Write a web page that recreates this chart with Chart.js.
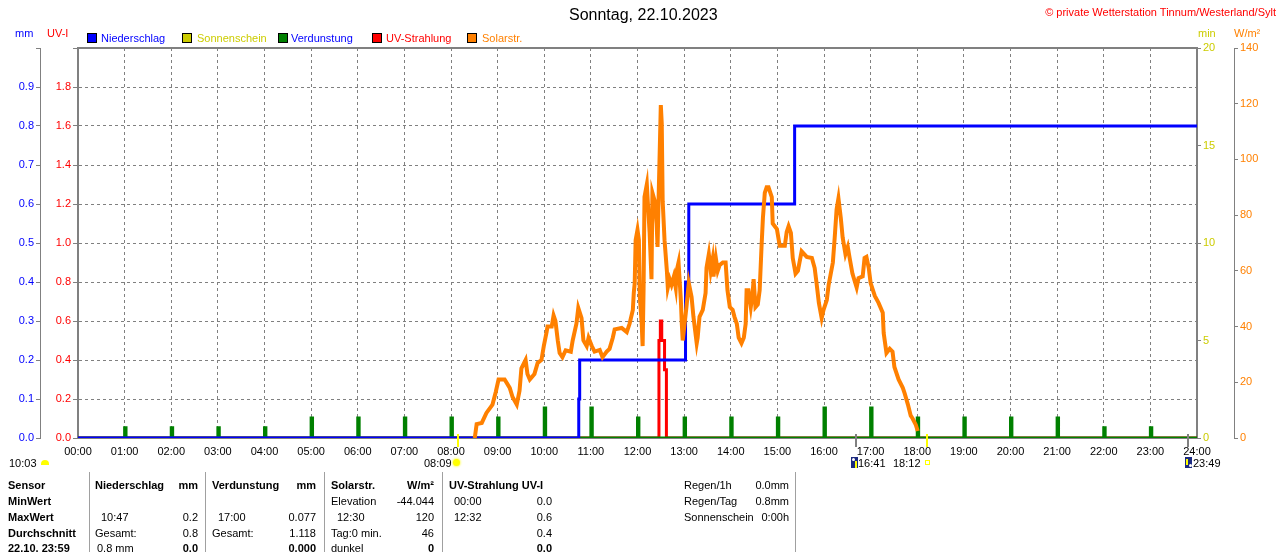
<!DOCTYPE html>
<html>
<head>
<meta charset="utf-8">
<script src="https://cdn.jsdelivr.net/npm/chart.js@4.4.0/dist/chart.umd.min.js"></script>
<style>
body{margin:0;background:#fff;font-family:'Liberation Sans',Arial,sans-serif;font-size:11px;}
#wrap{position:relative;width:1280px;height:552px;overflow:hidden;}
canvas{position:absolute;left:0;top:0;}
.t{position:absolute;white-space:nowrap;line-height:13px;}
.r{text-align:right;width:60px;}
.b{font-weight:bold;}
.sep{position:absolute;width:1px;background:#a0a0a0;top:472px;height:80px;}
.lb{position:absolute;width:8px;height:8px;border:1px solid #000;top:33px;}
.moon{position:absolute;width:7px;height:11px;background:#1c2a80;top:457px;}
</style>
</head>
<body>
<div id="wrap">
<canvas id="wx" width="1280" height="552"></canvas>

<div class="t" style="left:569px;top:6px;font-size:16px;line-height:18px;">Sonntag, 22.10.2023</div>
<div class="t" style="right:4px;top:6px;color:#f00;">&copy; private Wetterstation Tinnum/Westerland/Sylt</div>

<div class="t" style="left:15px;top:27px;color:#00f;">mm</div>
<div class="t" style="left:47px;top:27px;color:#f00;">UV-I</div>
<div class="t" style="left:1198px;top:27px;color:#cccc00;">min</div>
<div class="t" style="left:1234px;top:27px;color:#ff8000;">W/m&sup2;</div>

<div class="lb" style="left:87px;background:#0000ff;"></div>
<div class="t" style="left:101px;top:32px;color:#00f;">Niederschlag</div>
<div class="lb" style="left:182px;background:#cccc00;"></div>
<div class="t" style="left:197px;top:32px;color:#cccc00;">Sonnenschein</div>
<div class="lb" style="left:278px;background:#008000;"></div>
<div class="t" style="left:291px;top:32px;color:#00f;">Verdunstung</div>
<div class="lb" style="left:372px;background:#ff0000;"></div>
<div class="t" style="left:386px;top:32px;color:#f00;">UV-Strahlung</div>
<div class="lb" style="left:467px;background:#ff8000;"></div>
<div class="t" style="left:482px;top:32px;color:#ff8000;">Solarstr.</div>

<!-- marker row under the time axis -->
<div class="t" style="left:9px;top:457px;">10:03</div>
<div style="position:absolute;left:41px;top:460px;width:8px;height:5px;background:#ffff00;border-radius:5px 5px 0 0;"></div>
<div class="t" style="left:424px;top:457px;">08:09</div>
<div style="position:absolute;left:453px;top:459px;width:7px;height:7px;background:#ffff00;border-radius:50%;box-shadow:0 0 2px 1px #ffff80;"></div>
<div class="moon" style="left:851px;"></div>
<div style="position:absolute;left:852px;top:458px;width:3px;height:3px;background:#fff;border-radius:50%;"></div>
<div style="position:absolute;left:855px;top:461px;width:2px;height:7px;background:#ffff00;"></div>
<div class="t" style="left:858px;top:457px;">16:41</div>
<div class="t" style="left:893px;top:457px;">18:12</div>
<div style="position:absolute;left:925px;top:460px;width:3px;height:3px;border:1px solid #ffff00;"></div>
<div class="moon" style="left:1185px;"></div>
<div style="position:absolute;left:1186px;top:459px;width:2px;height:6px;background:#ffff00;"></div>
<div style="position:absolute;left:1189px;top:464px;width:3px;height:3px;background:#fff;border-radius:50%;"></div>
<div class="t" style="left:1193px;top:457px;">23:49</div>

<!-- table -->
<div class="sep" style="left:89px;"></div>
<div class="sep" style="left:205px;"></div>
<div class="sep" style="left:324px;"></div>
<div class="sep" style="left:442px;"></div>
<div class="sep" style="left:795px;"></div>

<div class="t b" style="left:8px;top:479px;">Sensor</div>
<div class="t b" style="left:8px;top:495px;">MinWert</div>
<div class="t b" style="left:8px;top:511px;">MaxWert</div>
<div class="t b" style="left:8px;top:527px;">Durchschnitt</div>
<div class="t b" style="left:8px;top:542px;">22.10. 23:59</div>

<div class="t b" style="left:95px;top:479px;">Niederschlag</div>
<div class="t b r" style="left:138px;top:479px;">mm</div>
<div class="t" style="left:101px;top:511px;">10:47</div>
<div class="t r" style="left:138px;top:511px;">0.2</div>
<div class="t" style="left:95px;top:527px;">Gesamt:</div>
<div class="t r" style="left:138px;top:527px;">0.8</div>
<div class="t" style="left:97px;top:542px;">0.8 mm</div>
<div class="t b r" style="left:138px;top:542px;">0.0</div>

<div class="t b" style="left:212px;top:479px;">Verdunstung</div>
<div class="t b r" style="left:256px;top:479px;">mm</div>
<div class="t" style="left:218px;top:511px;">17:00</div>
<div class="t r" style="left:256px;top:511px;">0.077</div>
<div class="t" style="left:212px;top:527px;">Gesamt:</div>
<div class="t r" style="left:256px;top:527px;">1.118</div>
<div class="t b r" style="left:256px;top:542px;">0.000</div>

<div class="t b" style="left:331px;top:479px;">Solarstr.</div>
<div class="t b r" style="left:374px;top:479px;">W/m&sup2;</div>
<div class="t" style="left:331px;top:495px;">Elevation</div>
<div class="t r" style="left:374px;top:495px;">-44.044</div>
<div class="t" style="left:337px;top:511px;">12:30</div>
<div class="t r" style="left:374px;top:511px;">120</div>
<div class="t" style="left:331px;top:527px;">Tag:0 min.</div>
<div class="t r" style="left:374px;top:527px;">46</div>
<div class="t" style="left:331px;top:542px;">dunkel</div>
<div class="t b r" style="left:374px;top:542px;">0</div>

<div class="t b" style="left:449px;top:479px;">UV-Strahlung UV-I</div>
<div class="t" style="left:454px;top:495px;">00:00</div>
<div class="t r" style="left:492px;top:495px;">0.0</div>
<div class="t" style="left:454px;top:511px;">12:32</div>
<div class="t r" style="left:492px;top:511px;">0.6</div>
<div class="t r" style="left:492px;top:527px;">0.4</div>
<div class="t b r" style="left:492px;top:542px;">0.0</div>

<div class="t" style="left:684px;top:479px;">Regen/1h</div>
<div class="t r" style="left:729px;top:479px;">0.0mm</div>
<div class="t" style="left:684px;top:495px;">Regen/Tag</div>
<div class="t r" style="left:729px;top:495px;">0.8mm</div>
<div class="t" style="left:684px;top:511px;">Sonnenschein</div>
<div class="t r" style="left:729px;top:511px;">0:00h</div>
</div>

<script>
// Tagesdaten 22.10.2023 (x = Stunde des Tages)
var solarTime = [8.51, 8.55, 8.66, 8.76, 8.89, 8.96, 9.02, 9.15, 9.26, 9.32, 9.41, 9.47, 9.51, 9.60, 9.64, 9.69, 9.79, 9.86, 9.94, 9.99,
    10.05, 10.07, 10.16, 10.20, 10.24, 10.29, 10.33, 10.39, 10.46, 10.57, 10.61, 10.69, 10.73, 10.80, 10.84, 10.91, 10.95,
    11.02, 11.08, 11.19, 11.25, 11.34, 11.40, 11.47, 11.51, 11.66, 11.77, 11.83, 11.90, 11.92, 11.94, 11.96,
    12.00, 12.03, 12.05, 12.09, 12.11, 12.13, 12.15, 12.20, 12.22, 12.26, 12.30, 12.32, 12.37, 12.41, 12.43, 12.45,
    12.50, 12.52, 12.54, 12.58, 12.63, 12.65, 12.69, 12.73, 12.78, 12.82, 12.84, 12.88, 12.93, 12.95, 12.97,
    13.01, 13.05, 13.10, 13.16, 13.20, 13.27, 13.29, 13.33, 13.40, 13.46, 13.48, 13.53, 13.57, 13.61, 13.63, 13.68,
    13.72, 13.76, 13.83, 13.89, 13.93, 13.98, 14.04, 14.08, 14.13, 14.17, 14.23, 14.28, 14.32, 14.34, 14.38, 14.43,
    14.47, 14.49, 14.53, 14.58, 14.62, 14.66, 14.69, 14.73, 14.77, 14.81, 14.88, 14.90, 14.99, 15.05, 15.16, 15.20,
    15.24, 15.29, 15.33, 15.39, 15.44, 15.52, 15.63, 15.74, 15.80, 15.84, 15.89, 15.95, 15.99, 16.06, 16.10, 16.19,
    16.23, 16.27, 16.31, 16.36, 16.40, 16.46, 16.51, 16.55, 16.61, 16.70, 16.74, 16.83, 16.87, 16.91, 16.96, 17.00,
    17.09, 17.17, 17.26, 17.28, 17.34, 17.41, 17.47, 17.51, 17.60, 17.69, 17.73, 17.80, 17.86, 17.90, 17.97, 18.01];
var solarVal = [0, 5, 5.4, 9, 12, 16.5, 21, 21, 18, 14.7, 12, 17, 25, 28, 23, 21, 23, 27, 28, 33,
    38, 40, 40, 44, 42, 35, 30.5, 29, 31.5, 31, 35, 41, 46.7, 43, 35, 33, 36,
    33, 31, 31.6, 29, 31, 32, 36, 39, 39.5, 38, 41, 46, 52, 55.6, 71,
    74.7, 71, 50.6, 41, 33, 53, 86.5, 91, 85, 73.6, 57, 88, 85, 77, 68.6, 84,
    119.5, 113, 85, 71, 60, 54, 57, 55, 58, 54, 60, 63, 49.5, 41, 35,
    41, 47, 55.6, 50.6, 43.5, 34, 36, 43.5, 46, 52, 61, 66, 60, 64, 58, 64.6,
    60, 62, 63, 63, 53, 47, 46, 43.5, 41, 36, 34, 36, 41, 53, 53, 47,
    52, 57, 47, 48, 53, 68.6, 79, 88, 90, 90, 86.5, 77, 75, 69, 69, 74,
    76, 73.6, 64.6, 59, 60, 67, 65, 64.6, 61, 55.6, 48.5, 43, 46, 49.5, 55, 63,
    72, 82, 86, 79, 72, 66, 68.6, 64.6, 59, 54, 57.4, 58, 64.6, 65, 61, 55.6,
    51, 48.5, 45, 37.7, 30.5, 32, 31, 25.5, 21, 18, 16, 12, 8, 7, 4.7, 2.5];

var rainTime = [0, 10.74, 10.76, 13.03, 13.10, 15.37, 24];
var rainVal = [0, 0.1, 0.2, 0.4, 0.6, 0.8, 0.8];

var evapHour = [1, 2, 3, 4, 5, 6, 7, 8, 9, 10, 11, 12, 13, 14, 15, 16, 17, 18, 19, 20, 21, 22, 23];
var evapVal = [0.026, 0.026, 0.026, 0.026, 0.051, 0.051, 0.051, 0.051, 0.051, 0.077, 0.077, 0.051,
    0.051, 0.051, 0.051, 0.077, 0.077, 0.051, 0.051, 0.051, 0.051, 0.026, 0.026];

var uvTime = [0, 12.46, 12.49, 12.52, 12.58, 12.62, 24];
var uvVal = [0, 0.5, 0.6, 0.5, 0.35, 0, 0];

var sunEvents = [8.15, 18.2];
var moonEvents = [16.683, 23.817];

function pts(xs, ys) {
    return xs.map(function(x, i) { return {x: x, y: ys[i]}; });
}

var evapPts = [{x: 0, y: 0}];
evapHour.forEach(function(h, i) {
    evapPts.push({x: h, y: evapVal[i]});
    evapPts.push({x: h + 0.03, y: 0});
});
evapPts.push({x: 24, y: 0});

var gray = '#808080';
Chart.defaults.font.family = "'Liberation Sans', Arial, sans-serif";
Chart.defaults.font.size = 11;
Chart.defaults.color = '#000';

// oberer Rahmen + Sonnen-/Mondmarken unter der Zeitachse
var extras = {
    id: 'extras',
    afterDraw: function(chart) {
        var a = chart.chartArea, c = chart.ctx, xs = chart.scales.x;
        c.save();
        c.strokeStyle = gray;
        c.lineWidth = 2;
        c.beginPath();
        c.moveTo(a.left - 1, a.top);
        c.lineTo(a.right + 1, a.top);
        c.stroke();
        function mark(t, col) {
            var px = Math.round(xs.getPixelForValue(t));
            c.strokeStyle = col;
            c.beginPath();
            c.moveTo(px, a.bottom - 4);
            c.lineTo(px, a.bottom + 9);
            c.stroke();
        }
        sunEvents.forEach(function(t) { mark(t, '#ffff00'); });
        moonEvents.forEach(function(t) { mark(t, gray); });
        c.restore();
    }
};

new Chart(document.getElementById('wx'), {
    type: 'line',
    data: {
        datasets: [{
            label: 'Solarstr.',
            data: pts(solarTime, solarVal),
            yAxisID: 'wm',
            borderColor: '#ff8000',
            borderWidth: 4,
            pointRadius: 0,
            tension: 0
        }, {
            label: 'Niederschlag',
            data: pts(rainTime, rainVal),
            yAxisID: 'mm',
            borderColor: '#0000ff',
            borderWidth: 3,
            pointRadius: 0,
            stepped: 'before'
        }, {
            label: 'Verdunstung',
            data: evapPts,
            yAxisID: 'mm',
            borderColor: '#008000',
            borderWidth: 3,
            pointRadius: 0,
            stepped: 'before'
        }, {
            label: 'UV-Strahlung',
            data: pts(uvTime, uvVal),
            yAxisID: 'uv',
            borderColor: '#ff0000',
            borderWidth: 3,
            pointRadius: 0,
            stepped: 'before'
        }]
    },
    options: {
        responsive: false,
        animation: false,
        devicePixelRatio: 1,
        layout: { padding: { top: 48, left: 0, right: 0, bottom: 0 } },
        plugins: { legend: { display: false }, tooltip: { enabled: false } },
        scales: {
            x: {
                type: 'linear', min: 0, max: 24,
                afterFit: function(s) { s.height = 114; },
                ticks: {
                    stepSize: 1, autoSkip: false, maxRotation: 0, padding: 7,
                    callback: function(v) { return (v < 10 ? '0' : '') + v + ':00'; }
                },
                grid: { color: gray, drawTicks: false },
                border: { color: gray, width: 2, dash: [3, 3] }
            },
            mm: {
                position: 'left', weight: 1, min: 0, max: 1,
                afterFit: function(s) { s.width = 40; },
                ticks: {
                    stepSize: 0.1, color: '#0000ff', padding: 2,
                    callback: function(v) { return v > 0.95 ? '' : v.toFixed(1); }
                },
                grid: { drawOnChartArea: false, color: gray, tickLength: 4 },
                border: { color: gray, width: 1 }
            },
            uv: {
                position: 'left', weight: 0, min: 0, max: 2,
                afterFit: function(s) { s.width = 38; },
                ticks: {
                    stepSize: 0.2, color: '#ff0000', padding: 2,
                    callback: function(v) { return v > 1.9 ? '' : v.toFixed(1); }
                },
                grid: { color: gray, tickLength: 5 },
                border: { color: gray, width: 2, dash: [3, 3] }
            },
            min: {
                position: 'right', weight: 0, min: 0, max: 20,
                afterFit: function(s) { s.width = 37; },
                ticks: { stepSize: 5, color: '#cccc00', padding: 2 },
                grid: { drawOnChartArea: false, color: gray, tickLength: 4 },
                border: { color: gray, width: 2 }
            },
            wm: {
                position: 'right', weight: 1, min: 0, max: 140,
                afterFit: function(s) { s.width = 46; },
                ticks: { stepSize: 20, color: '#ff8000', padding: 2 },
                grid: { drawOnChartArea: false, color: gray, tickLength: 4 },
                border: { color: gray, width: 1 }
            }
        }
    },
    plugins: [extras]
});
</script>
</body>
</html>
